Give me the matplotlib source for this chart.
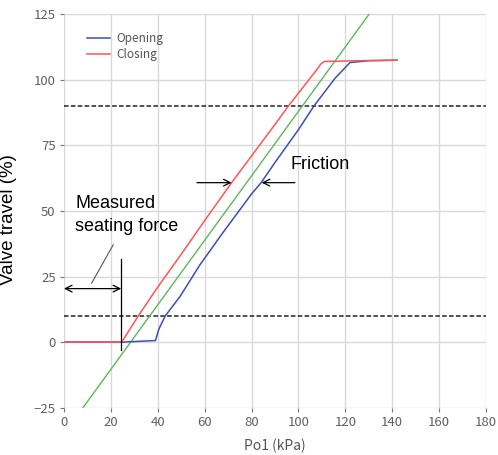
import matplotlib
matplotlib.use("Agg")
import matplotlib.pyplot as plt

# ---- data ----
open_x = [0, 25, 39, 40.3, 41, 43.2, 49.5, 58, 68, 80, 84.1, 90, 100, 106.6, 115.6, 122, 130, 142]
open_y = [0, 0, 0.6, 4.5, 6, 10, 17.4, 29.5, 42, 56.5, 60.8, 68.5, 81, 90, 100.6, 106.6, 107.3, 107.5]

close_x = [0, 24.6, 31.7, 40, 50, 60.2, 71.5, 80, 90, 95.7, 104, 107.5, 109.5, 111, 125, 142]
close_y = [0, 0, 10, 21, 33.5, 46.6, 60.8, 71, 83, 90, 99.5, 103.5, 106, 107, 107.3, 107.5]

ideal_x = [8.1, 130.1]
ideal_y = [-25, 125]

limit_levels = [90, 10]

x_ticks = [0, 20, 40, 60, 80, 100, 120, 140, 160, 180]
y_ticks = [-25, 0, 25, 50, 75, 100, 125]

seat_x = 24.4
seat_y = [-3, 31.7]
seat_arrow_y = 20.4
fric_y = 60.8
fric_left = [56.7, 71.5]
fric_right = [98.5, 84.3]
leader_x = [11.8, 21.0]
leader_y = [22.5, 37.1]

# ---- figure ----
fig = plt.figure(figsize=(4.98, 4.55), dpi=100)
ax = fig.add_axes([0.1285, 0.104, 0.8474, 0.8646])

tick_font = ["Noto Sans CJK JP", "DejaVu Sans"]
txt_font = ["Liberation Sans", "DejaVu Sans"]

ax.set_xlim(0, 180)
ax.set_ylim(-25, 125)
ax.set_xticks(x_ticks)
ax.set_yticks(y_ticks)
ax.grid(True, color="#d9d9d9", linewidth=1.0)
ax.set_axisbelow(True)
for s in ax.spines.values():
    s.set_visible(False)
ax.tick_params(axis="both", colors="#777777", labelcolor="#606060", length=3,
               width=0.8, labelsize=9.5, pad=3)
for lab in ax.get_xticklabels() + ax.get_yticklabels():
    lab.set_fontfamily(tick_font)

for lv in limit_levels:
    ax.axhline(lv, color="#222222", linestyle=(0, (3, 1.5)), linewidth=1.1, zorder=2)

ax.plot(ideal_x, ideal_y, color="#5cb85c", linewidth=1.0, zorder=3)
ax.plot(open_x, open_y, color="#3c4fb8", linewidth=1.1, label="Opening", zorder=4)
ax.plot(close_x, close_y, color="#ff5555", linewidth=1.1, label="Closing", zorder=4)

leg = ax.legend(loc="upper left", bbox_to_anchor=(0.037, 0.972), frameon=False,
                prop={"family": tick_font, "size": 8.5}, handlelength=2.0,
                handletextpad=0.5, labelspacing=0.25, borderaxespad=0.2)
for t in leg.get_texts():
    t.set_color("#555555")

# seating force annotation
ax.plot([seat_x, seat_x], seat_y, color="black", linewidth=0.9, zorder=5)
ax.annotate("", xy=(0, seat_arrow_y), xytext=(seat_x, seat_arrow_y),
            arrowprops=dict(arrowstyle="<->", color="black", lw=0.9,
                            shrinkA=0, shrinkB=0, mutation_scale=12), zorder=5)
ax.plot(leader_x, leader_y, color="#555555", linewidth=0.8, zorder=5)
ax.text(4.9, 48.5, "Measured\nseating force", fontsize=13, family=txt_font,
        ha="left", va="center", linespacing=1.45, color="black")

# friction annotation
ax.annotate("", xy=(fric_left[1], fric_y), xytext=(fric_left[0], fric_y),
            arrowprops=dict(arrowstyle="->", color="black", lw=0.9,
                            shrinkA=0, shrinkB=0, mutation_scale=12), zorder=5)
ax.annotate("", xy=(fric_right[1], fric_y), xytext=(fric_right[0], fric_y),
            arrowprops=dict(arrowstyle="->", color="black", lw=0.9,
                            shrinkA=0, shrinkB=0, mutation_scale=12), zorder=5)
ax.text(96.5, 67.8, "Friction", fontsize=13, family=txt_font, ha="left",
        va="center", color="black")

ax.set_ylabel("Valve travel (%)", fontsize=13.5, family=txt_font, color="black")
ax.yaxis.set_label_coords(-0.111, 0.477)
ax.set_xlabel("Po1 (kPa)", fontsize=10, family=tick_font, color="#555555")
ax.xaxis.set_label_coords(0.5, -0.078)

fig.savefig("out.png", dpi=100)
